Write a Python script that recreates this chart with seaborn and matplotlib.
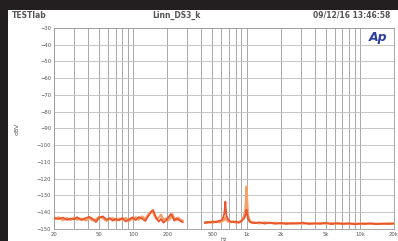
import pandas as pd
import matplotlib.pyplot as plt
import seaborn as sns

# FFT noise floor, two channels (Hz / dBV); NaN section = below the plot floor
freq = [20, 22, 24, 26, 28, 30, 32, 35, 38, 41, 44, 47, 50, 54, 58, 62, 66, 70, 75, 80,
        86, 92, 98, 105, 112, 120, 128, 136, 142, 146, 150, 154, 160, 168, 176, 185, 195,
        205, 215, 222, 230, 240, 250, 262, 274,
        428, 450, 480, 510, 540, 570, 600, 620, 635, 645, 650, 655, 665, 690, 720, 760,
        800, 850, 900, 940, 970, 985, 995, 1000, 1005, 1015, 1030, 1060, 1100, 1200, 1300,
        1450, 1600, 1800, 2000, 2250, 2500, 2800, 3150, 3550, 4000, 4500, 5000, 5600, 6300,
        7100, 8000, 9000, 10000, 11200, 12500, 14000, 16000, 18000, 20000]
segment = [1] * 45 + [2] * 55

ch1_db = [-143.5, -144.0, -143.2, -144.5, -143.8, -144.2, -143.0, -144.6, -143.5, -142.8,
          -144.0, -145.8, -143.2, -142.5, -144.4, -143.6, -145.0, -143.9, -144.8, -143.4,
          -145.5, -144.2, -143.1, -144.6, -142.9, -143.8, -145.2, -142.0, -140.5, -139.2,
          -138.7, -140.8, -143.5, -145.6, -144.0, -146.2, -144.8, -143.0, -141.0, -142.5,
          -145.0, -143.6, -144.4, -145.2, -146.0,
          -146.5, -145.8, -146.2, -145.5, -146.0, -145.2, -144.8, -143.5, -141.0, -137.0,
          -133.7, -137.5, -142.0, -144.5, -145.6, -146.0, -145.5, -146.3, -145.4, -144.0,
          -142.5, -140.5, -139.0, -138.5, -139.5, -141.5, -143.8, -145.5, -146.2, -146.5,
          -146.0, -146.8, -146.2, -146.9, -146.4, -147.0, -146.5, -146.8, -146.2, -147.0,
          -146.6, -146.9, -146.3, -147.1, -146.5, -147.0, -146.6, -147.2, -146.8, -147.0,
          -146.6, -147.1, -146.8, -147.0, -146.7]

ch2_db = [-144.2, -143.0, -144.8, -143.5, -144.6, -143.2, -144.5, -143.8, -144.9, -143.6,
          -145.0, -144.2, -142.8, -143.5, -145.2, -144.0, -143.4, -145.0, -143.8, -144.5,
          -143.4, -145.2, -144.0, -143.0, -144.5, -142.5, -143.9, -141.5, -140.0, -139.5,
          -140.2, -142.0, -144.0, -143.2, -141.5, -144.5, -143.6, -144.8, -143.2, -141.2,
          -143.8, -144.8, -143.2, -144.6, -145.0,
          -145.8, -146.4, -145.6, -146.2, -145.4, -146.0, -145.6, -145.0, -144.6, -143.8,
          -143.0, -143.8, -144.8, -145.6, -146.0, -145.4, -146.2, -145.8, -145.0, -143.0,
          -140.0, -134.0, -126.0, -124.7, -127.0, -135.0, -141.5, -144.5, -145.8, -146.2,
          -146.6, -146.0, -146.5, -146.2, -146.8, -146.3, -146.9, -146.4, -146.8, -146.5,
          -146.9, -146.4, -146.8, -146.5, -146.9, -146.6, -147.0, -146.7, -146.9, -146.6,
          -147.0, -146.8, -146.9, -146.6, -146.8]

x_ticks = [20, 50, 100, 200, 500, 1000, 2000, 5000, 10000, 20000]
x_labels = ['20', '50', '100', '200', '500', '1k', '2k', '5k', '10k', '20k']
y_ticks = [-30, -40, -50, -60, -70, -80, -90, -100, -110, -120, -130, -140, -150]

df = pd.DataFrame({'freq': freq, 'seg': segment, 'ch1': ch1_db, 'ch2': ch2_db})

sns.set_style('white')
plt.rcParams['font.family'] = ['DejaVu Sans']

fig = plt.figure(figsize=(3.98, 2.41), dpi=100, facecolor='#231f20')
# white panel inside the dark frame
panel = plt.Rectangle((8 / 398, 0), 390 / 398, 231 / 241, transform=fig.transFigure,
                      facecolor='white', edgecolor='none', zorder=-10)
fig.add_artist(panel)

ax = fig.add_axes([54 / 398, 1 - 229 / 241, 340 / 398, 201 / 241])
ax.set_zorder(1)
ax.set_xscale('log')

sns.lineplot(data=df, x='freq', y='ch2', units='seg', estimator=None, color='#f5a068',
             linewidth=1.6, ax=ax, zorder=3)
sns.lineplot(data=df, x='freq', y='ch1', units='seg', estimator=None, color='#e8552c',
             linewidth=1.3, ax=ax, zorder=4)

ax.set_xlim(20, 20000)
ax.set_ylim(-150, -30)
ax.set_xticks(x_ticks)
ax.set_xticklabels(x_labels)
ax.set_xticks([], minor=True)
ax.set_yticks(y_ticks)
ax.tick_params(axis='both', labelsize=3.8, colors='#555555', length=0, pad=2)

# log grid: every 1..9 per decade
grid_f = [m * d for d in [10, 100, 1000, 10000] for m in range(1, 10) if 20 <= m * d <= 20000]
for f in grid_f:
    ax.axvline(f, color='#9a9a9a', linewidth=0.6, zorder=1)
for y in y_ticks:
    ax.axhline(y, color='#bdbdbd', linewidth=0.6, zorder=1)
for s in ax.spines.values():
    s.set_color('#9a9a9a')
    s.set_linewidth(0.6)

ax.set_xlabel('Hz', fontsize=3.5, color='#555555', labelpad=0)
ax.set_ylabel('dBV', fontsize=4.5, color='#555555', labelpad=12)

fig.text(12 / 398, 1 - 15 / 241, 'TESTlab', fontsize=5.5, fontweight='bold', color='#555555',
         ha='left', va='center')
fig.text(176 / 398, 1 - 15 / 241, 'Linn_DS3_k', fontsize=5.5, fontweight='bold', color='#555555',
         ha='center', va='center')
fig.text(390 / 398, 1 - 15 / 241, '09/12/16 13:46:58', fontsize=5.5, fontweight='bold',
         color='#555555', ha='right', va='center')
fig.text(378 / 398, 1 - 38 / 241, 'Ap', fontsize=9, fontweight='bold', fontstyle='italic',
         color='#2d3f9e', ha='center', va='center')

fig.savefig('out.png', dpi=100, facecolor=fig.get_facecolor())
